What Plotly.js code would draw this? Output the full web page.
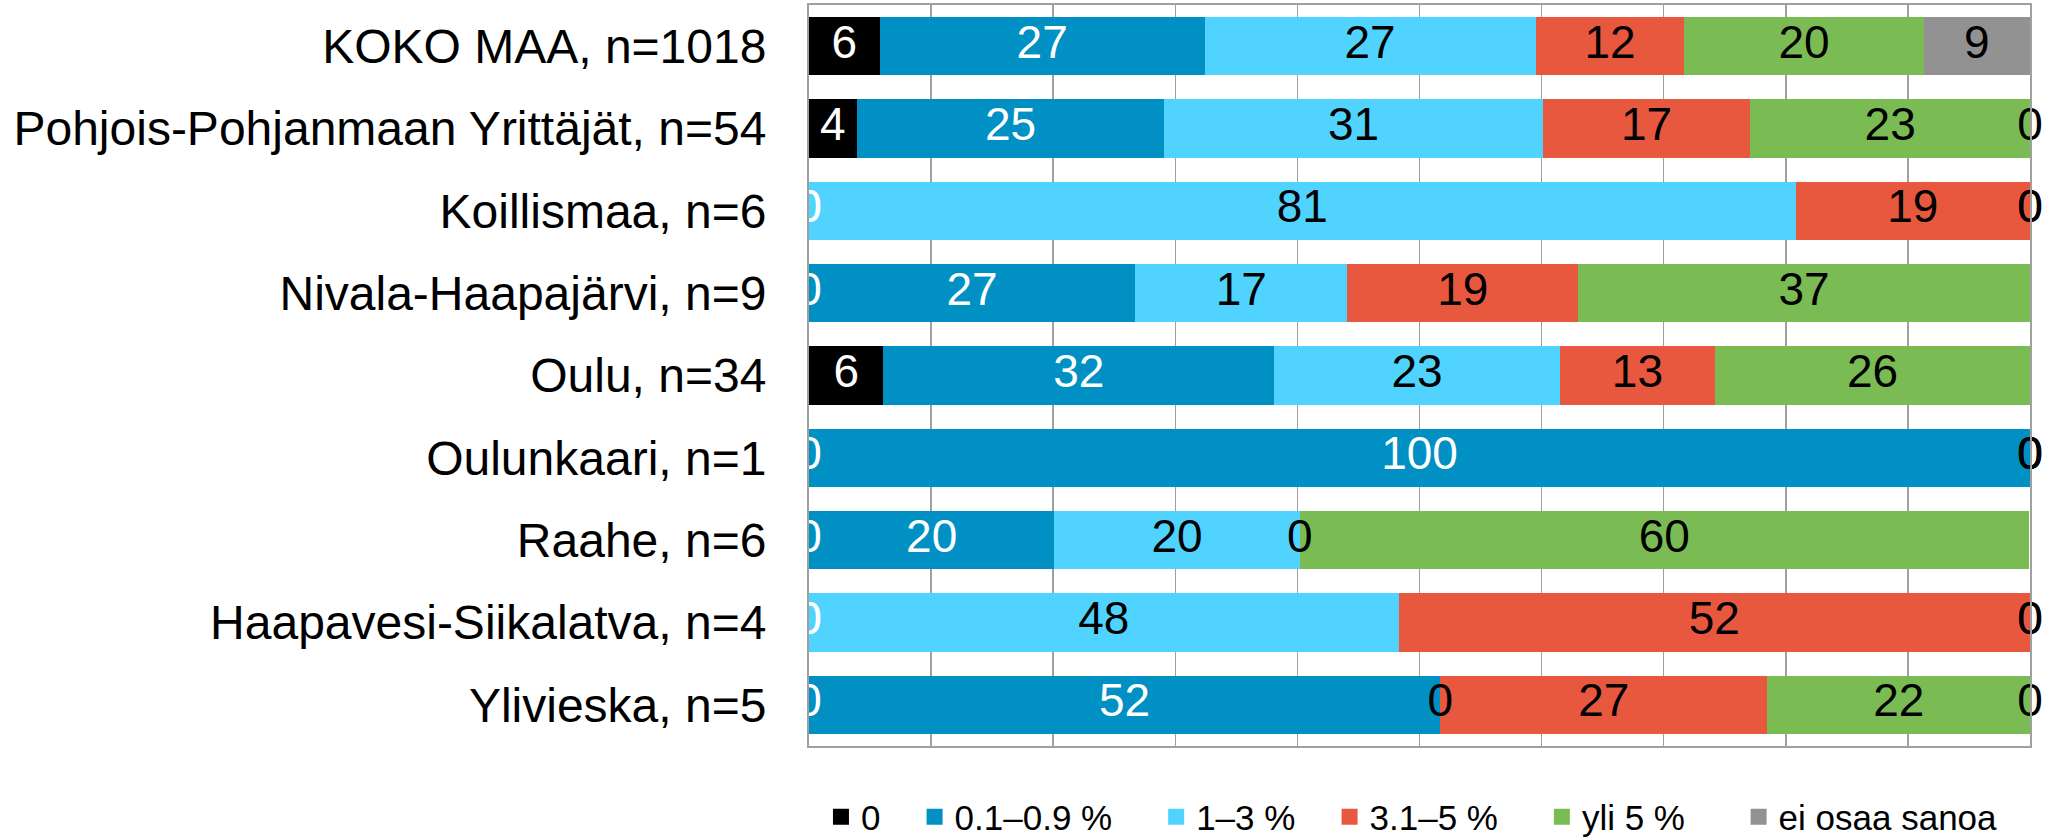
<!DOCTYPE html>
<html>
<head>
<meta charset="utf-8">
<script src="https://cdn.plot.ly/plotly-3.0.1.min.js"></script>
<style>
html,body{margin:0;padding:0;background:#fff;}
#chart{width:2059px;height:839px;}
</style>
</head>
<body>
<div id="chart"></div>
<script>
const categories = ['KOKO MAA, n=1018', 'Pohjois-Pohjanmaan Yrittäjät, n=54', 'Koillismaa, n=6', 'Nivala-Haapajärvi, n=9', 'Oulu, n=34', 'Oulunkaari, n=1', 'Raahe, n=6', 'Haapavesi-Siikalatva, n=4', 'Ylivieska, n=5'];
const seriesNames = ['0', '0.1–0.9 %', '1–3 %', '3.1–5 %', 'yli 5 %', 'ei osaa sanoa'];
const s0   = [5.8, 3.9, 0, 0, 6.1, 0, 0, 0, 0];
const s01  = [26.6, 25.2, 0, 26.7, 32.0, 100, 20.1, 0, 51.7];
const s13  = [27.1, 31.0, 80.8, 17.4, 23.4, 0, 20.1, 48.3, 0];
const s35  = [12.2, 17.0, 19.2, 18.9, 12.7, 0, 0, 51.7, 26.8];
const sYli = [19.6, 22.9, 0, 37.0, 25.8, 0, 59.7, 0, 21.5];
const sEi  = [8.7, 0, 0, null, null, 0, null, 0, 0];

const seriesValues = [s0, s01, s13, s35, sYli, sEi];
const seriesColors = ['#000000', '#0090C3', '#50D4FF', '#E8583F', '#7ABC53', '#929292'];
const labelColors = ['#ffffff', '#ffffff', '#000000', '#000000', '#000000', '#000000'];
// trailing non-breaking spaces widen the gap between legend entries
const legendPad = [3, 4, 3, 4, 5, 0];

const FONT = 'Liberation Sans, Arial, sans-serif';
const barTraces = [];
const labelTraces = [];
const legendTraces = [];
const cum = categories.map(() => 0);

seriesValues.forEach((vals, i) => {
  barTraces.push({
    type: 'bar', orientation: 'h', name: seriesNames[i],
    x: vals, y: categories,
    marker: {color: seriesColors[i], line: {width: 0}},
    showlegend: false, hoverinfo: 'skip'
  });
  const lx = [], ly = [], lt = [];
  vals.forEach((v, j) => {
    if (v === null || v === undefined) return;
    lx.push(cum[j] + v / 2);
    ly.push(categories[j]);
    lt.push(String(Math.round(v)));
    cum[j] += v;
  });
  labelTraces.push({
    type: 'scatter', mode: 'text', x: lx, y: ly, text: lt,
    textposition: 'middle center',
    textfont: {family: FONT, size: 46, color: labelColors[i]},
    showlegend: false, hoverinfo: 'skip', cliponaxis: false
  });
  legendTraces.push({
    type: 'scatter', mode: 'markers', x: [null], y: [null],
    name: seriesNames[i] + '\u00a0'.repeat(legendPad[i]),
    marker: {symbol: 'square', size: 16, color: seriesColors[i]},
    showlegend: true, hoverinfo: 'skip'
  });
});

const layout = {
  width: 2059, height: 839,
  margin: {l: 809, r: 29, t: 5, b: 93, autoexpand: false},
  paper_bgcolor: '#ffffff', plot_bgcolor: '#ffffff',
  barmode: 'stack', bargap: 0.29,
  showlegend: true,
  font: {family: FONT, color: '#000000'},
  xaxis: {
    range: [0, 100], dtick: 10, tick0: 0,
    showticklabels: false, ticks: '',
    showgrid: true, gridcolor: '#A0A0A0', gridwidth: 1.5,
    zeroline: false, showline: true, linecolor: '#A0A0A0', linewidth: 2, mirror: true,
    fixedrange: true
  },
  yaxis: {
    autorange: 'reversed', type: 'category',
    showgrid: false, zeroline: false,
    showline: true, linecolor: '#A0A0A0', linewidth: 2, mirror: true,
    ticks: '', ticklabelstandoff: 31,
    tickfont: {family: FONT, size: 48, color: '#000000'},
    fixedrange: true
  },
  legend: {
    orientation: 'h', x: 0.0098, xanchor: 'left', y: -0.0958, yanchor: 'middle',
    font: {family: FONT, size: 35, color: '#000000'},
    traceorder: 'normal', itemsizing: 'trace', itemclick: false, itemdoubleclick: false
  }
};

Plotly.newPlot('chart', barTraces.concat(labelTraces, legendTraces), layout, {displayModeBar: false, staticPlot: true});
</script>
</body>
</html>
